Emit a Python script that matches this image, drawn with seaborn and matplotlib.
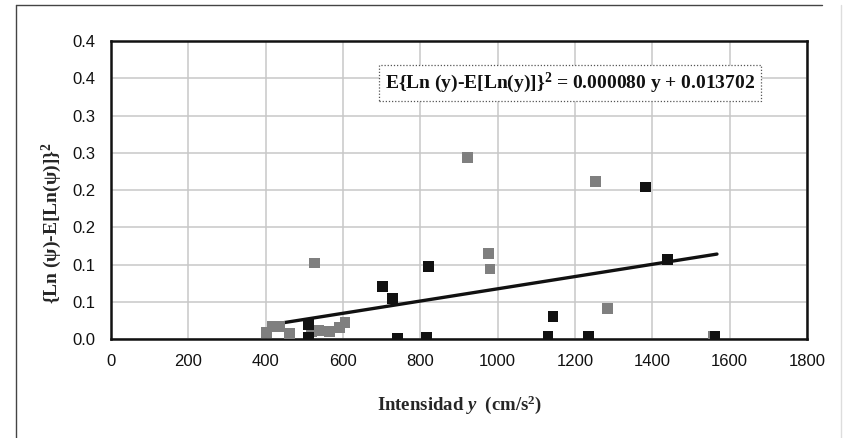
import numpy as np
import pandas as pd
import matplotlib
matplotlib.use("Agg")
import matplotlib.pyplot as plt
from matplotlib.lines import Line2D
import seaborn as sns

# Observations: intensity y (cm/s^2) and squared log deviation
gray_x = [403, 418, 437, 462, 519, 536, 566, 592, 605, 527, 923, 975, 980, 1252, 1283, 1557]
gray_y = [0.009, 0.017, 0.017, 0.007, 0.010, 0.012, 0.010, 0.015, 0.022, 0.102,
          0.244, 0.115, 0.094, 0.211, 0.041, 0.003]
black_x = [510, 510, 701, 729, 740, 815, 822, 1130, 1143, 1234, 1381, 1440, 1562]
black_y = [0.020, 0.002, 0.070, 0.054, 0.001, 0.002, 0.097, 0.003, 0.030, 0.003,
           0.204, 0.107, 0.003]

# Fitted trend line end points
line_x = [411, 1567]
line_y = [0.019, 0.114]

x_ticks = [0, 200, 400, 600, 800, 1000, 1200, 1400, 1600, 1800]
y_ticks = [0.0, 0.05, 0.10, 0.15, 0.20, 0.25, 0.30, 0.35, 0.40]
y_tick_labels = ["0.0", "0.1", "0.1", "0.2", "0.2", "0.3", "0.3", "0.4", "0.4"]

equation = "E{Ln (y)-E[Ln(y)]}$^{\\mathbf{2}}$ = 0.000080 y + 0.013702"
x_label = "Intensidad $\\mathit{y}$  (cm/s$^{\\mathbf{2}}$)"
y_label = "{Ln (ψ)-E[Ln(ψ)]}$^{\\mathbf{2}}$"

sns.set_theme(style="white")
plt.rcParams["font.family"] = ["Liberation Sans", "DejaVu Sans"]
plt.rcParams["mathtext.fontset"] = "custom"
plt.rcParams["mathtext.rm"] = "Liberation Serif:bold"
plt.rcParams["mathtext.bf"] = "Liberation Serif:bold"
plt.rcParams["mathtext.it"] = "Liberation Serif:bold:italic"

df = pd.DataFrame({
    "x": gray_x + black_x,
    "y": gray_y + black_y,
    "serie": ["gris"] * len(gray_x) + ["negro"] * len(black_x),
})
trend = pd.DataFrame({"x": line_x, "y": line_y})

fig = plt.figure(figsize=(8.45, 4.38), dpi=100)
ax = fig.add_axes([0.1314, 0.226, 0.8237, 0.6804])

sns.lineplot(data=trend, x="x", y="y", color="#111111", linewidth=2.4, ax=ax, zorder=3)
sns.scatterplot(data=df, x="x", y="y", hue="serie",
                palette={"gris": "#7f7f7f", "negro": "#111111"},
                marker="s", s=62, edgecolor="none", legend=False, ax=ax, zorder=4)

ax.set_xlim(0, 1800)
ax.set_ylim(0, 0.4)
ax.set_xticks(x_ticks)
ax.set_xticklabels([str(v) for v in x_ticks])
ax.set_yticks(y_ticks)
ax.set_yticklabels(y_tick_labels)
ax.tick_params(axis="both", labelsize=12, colors="#111111", direction="out",
               length=4, width=1.2, pad=7)
ax.grid(True, color="#c8c8c8", linewidth=1.1)
ax.set_axisbelow(True)
for sp in ax.spines.values():
    sp.set_color("#111111")
    sp.set_linewidth(1.8)
ax.set_xlabel("")
ax.set_ylabel("")

fig.text(0.544, 0.075, x_label, ha="center", va="center", fontsize=13.5,
         family="Liberation Serif", fontweight="bold")
fig.text(0.061, 0.49, y_label, ha="center", va="center", rotation=90,
         fontsize=14, family="Liberation Serif", fontweight="bold")

ax.text(0.6595, 0.859, equation, transform=ax.transAxes, ha="center", va="center",
        fontsize=14, family="Liberation Serif", fontweight="bold", color="#111111",
        bbox=dict(boxstyle="square,pad=0.3", facecolor="white",
                  edgecolor="#555555", linestyle=(0, (1, 1.5)), linewidth=0.9),
        zorder=5)

# Chart area frame
fig.add_artist(Line2D([16 / 845, 16 / 845], [1 - 5 / 438, 0], color="#444444", linewidth=1.0))
fig.add_artist(Line2D([16 / 845, 822 / 845], [1 - 5 / 438, 1 - 5 / 438], color="#444444", linewidth=1.0))
fig.add_artist(Line2D([841 / 845, 841 / 845], [1 - 5 / 438, 0], color="#dddddd", linewidth=1.0))

fig.savefig("out.png", dpi=100)
